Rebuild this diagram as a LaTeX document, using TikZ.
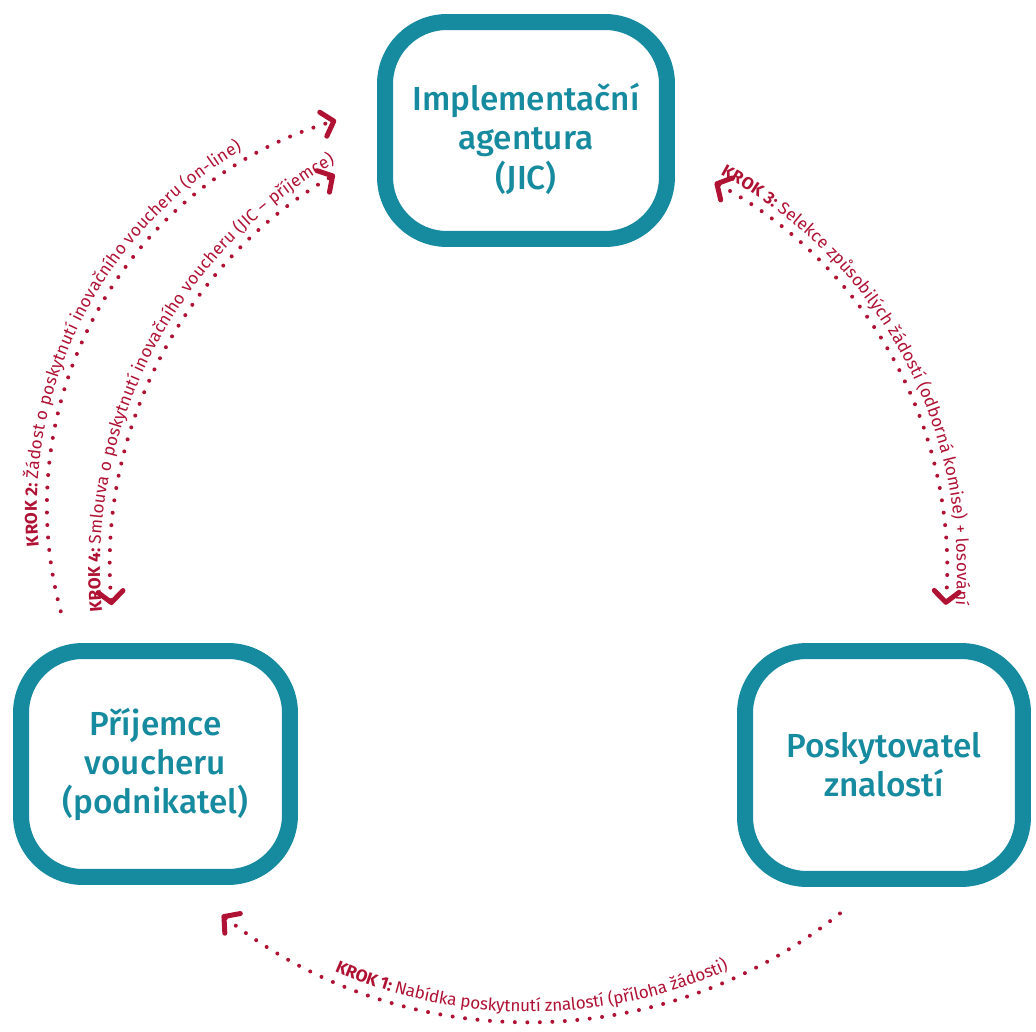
\documentclass[tikz,border=0pt]{standalone}
\usepackage{fontspec}
\setmainfont{Fira Sans}
\newfontfamily\boxfont{Fira Sans Medium}
\usetikzlibrary{arrows.meta,decorations.text}

\definecolor{jicteal}{RGB}{22,138,158}
\definecolor{krokred}{RGB}{176,18,52}
\newcommand{\krokb}{\fontsize{9.75}{12}\selectfont\bfseries}
\newcommand{\krokn}{\fontsize{9.75}{12}\selectfont\mdseries}

\begin{document}
\begin{tikzpicture}[x=0.02cm,y=0.02cm,
    agentbox/.style={draw=jicteal, line width=0.32cm, rounded corners=1.24cm, text=jicteal,
        font=\fontsize{19}{22.2}\selectfont\boxfont, align=center, inner sep=0pt},
    krokline/.style={draw=krokred, line width=0.08cm, line cap=round, dash pattern=on 0pt off 0.25cm},
    kroktext/.style={decorate, decoration={text along path, text align=center, raise=0.2cm,
        text color=krokred, text={#1}}},
    >={Straight Barb[length=0.22cm, width=0.5cm, line width=0.1cm, round]}]
    \useasboundingbox (0,0) rectangle (1036,1032);

    % boxes
    \node[agentbox, minimum width=5.64cm, minimum height=4.34cm] (jic) at (526,901.5)
        {\raisebox{-0.24cm}[\height][\depth]{\begin{tabular}{@{}c@{}}Implementační\\agentura\\(JIC)\end{tabular}}};
    \node[agentbox, minimum width=5.38cm, minimum height=4.52cm] (prijemce) at (155.5,268) {Příjemce\\voucheru\\(podnikatel)};
    \node[agentbox, minimum width=5.56cm, minimum height=4.56cm] (poskytovatel) at (884,267) {Poskytovatel\\znalostí};

    % arc centres
    \coordinate (c1) at (530,507);
    \coordinate (c2) at (450,525);
    \coordinate (c3) at (506,461);
    \coordinate (c4) at (565,465);

    % KROK 1
    \draw[krokline, <-] ([shift={(231.7:497)}]c1) arc[start angle=231.7, end angle=308.7, radius=497];
    \path[kroktext={|\krokb|KROK 1: |\krokn|Nabídka poskytnutí znalostí (příloha žádosti)}]
        ([shift={(231.7:497)}]c1) arc[start angle=231.7, end angle=308.7, radius=497];

    % KROK 2
    \draw[krokline, ->] ([shift={(195:403)}]c2) arc[start angle=195, end angle=106.4, radius=403];
    \path[kroktext={|\krokb|KROK 2: |\krokn|Žádost o poskytnutí inovačního voucheru (on-line)},
        decoration={text align={center, right indent=0.6cm}}]
        ([shift={(195:403)}]c2) arc[start angle=195, end angle=106.4, radius=403];

    % KROK 3
    \draw[krokline, <->] ([shift={(61.75:441)}]c3) arc[start angle=61.75, end angle=-4.4, radius=441];
    \path[kroktext={|\krokb|KROK 3: |\krokn|Selekce způsobilých žádostí (odborná komise) + losování}]
        ([shift={(62.5:441)}]c3) arc[start angle=62.5, end angle=-5.2, radius=441];

    % KROK 4
    \draw[krokline, <->] ([shift={(184.8:455)}]c4) arc[start angle=184.8, end angle=120.4, radius=455];
    \path[kroktext={|\krokb|KROK 4: |\krokn|Smlouva o poskytnutí inovačního voucheru (JIC – příjemce)}]
        ([shift={(185.6:455)}]c4) arc[start angle=185.6, end angle=119.6, radius=455];
\end{tikzpicture}
\end{document}
